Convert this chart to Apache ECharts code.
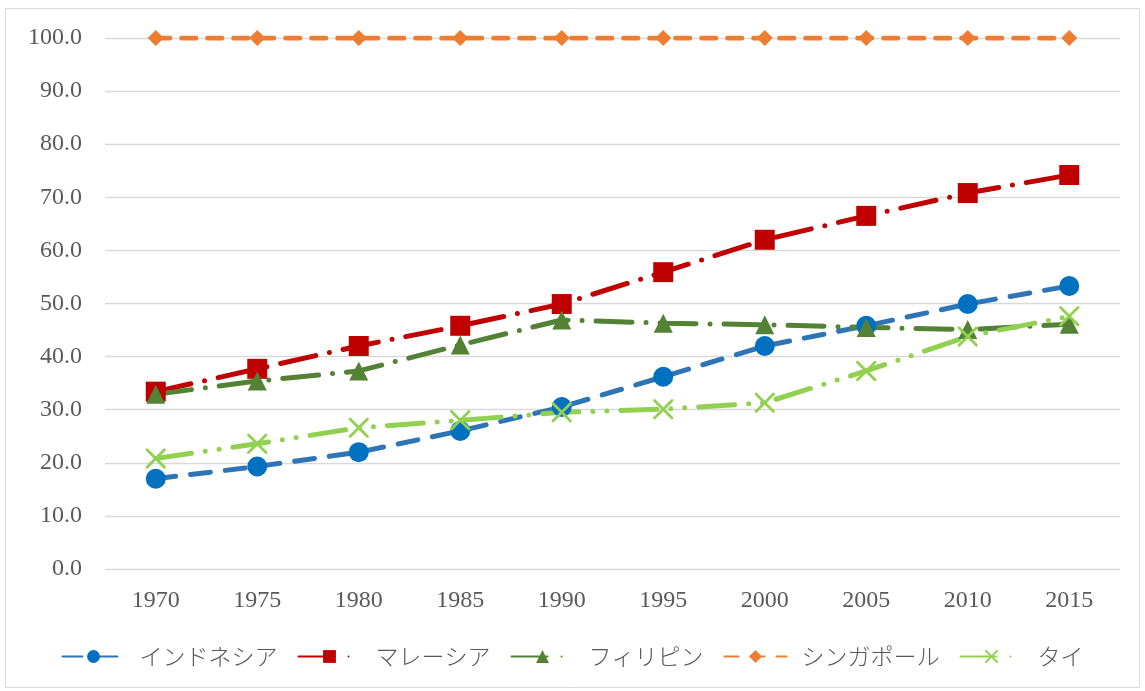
<!DOCTYPE html>
<html><head><meta charset="utf-8">
<script src="https://cdn.jsdelivr.net/npm/echarts@6/dist/echarts.min.js"></script>
<style>html,body{margin:0;padding:0;background:#fff}#c{width:1145px;height:691px}</style>
</head><body><div id="c"></div>
<script>
const years = ['1970','1975','1980','1985','1990','1995','2000','2005','2010','2015'];
const seriesNames = ['インドネシア','マレーシア','フィリピン','シンガポール','タイ'];
const indonesia = [17.0, 19.3, 22.0, 26.0, 30.5, 36.2, 42.0, 45.8, 49.9, 53.3];
const malaysia = [33.4, 37.7, 42.0, 45.8, 49.9, 55.9, 62.0, 66.5, 70.8, 74.2];
const philippines = [32.9, 35.4, 37.3, 42.2, 46.9, 46.3, 46.0, 45.5, 45.1, 46.1];
const singapore = [100, 100, 100, 100, 100, 100, 100, 100, 100, 100];
const thai = [20.8, 23.6, 26.6, 28.0, 29.5, 30.1, 31.3, 37.3, 43.8, 47.6];
const yTicks = [0,10,20,30,40,50,60,70,80,90,100];

const serif = '"Liberation Serif","DejaVu Serif",serif';
const jp = '"Noto Sans CJK JP",sans-serif';
const xPath = 'path://M0,0 L2,0 L10,8 L18,0 L20,0 L20,2 L12,10 L20,18 L20,20 L18,20 L10,12 L2,20 L0,20 L0,18 L8,10 L0,2 Z';

function mk(name, data, color, lineType, symbol, size, mcolor){
  return {
    name, type:'line', data,
    symbol, symbolSize:size,
    itemStyle:{color: mcolor||color},
    lineStyle:{color, width:5, type:lineType, cap:'round'},
    emphasis:{disabled:true}
  };
}
const chart = echarts.init(document.getElementById('c'));
chart.setOption({
  animation:false,
  grid:{left:105, right:25, top:38, bottom:122},
  graphic:[{type:'rect', shape:{x:5.5,y:8.5,width:1134,height:679}, style:{fill:'none', stroke:'#d9d9d9', lineWidth:1}, silent:true}],
  xAxis:{type:'category', data:years, boundaryGap:true,
    axisLine:{show:false}, axisTick:{show:false},
    axisLabel:{color:'#595959', fontFamily:serif, fontSize:24, margin:20}},
  yAxis:{type:'value', min:0, max:100, interval:10,
    axisLine:{show:false}, axisTick:{show:false},
    splitLine:{lineStyle:{color:'#d9d9d9', width:1.3}},
    axisLabel:{color:'#595959', fontFamily:serif, fontSize:24, margin:23,
      formatter:v=>yTicks.includes(v)? v.toFixed(1):''}},
  legend:{bottom:18, left:'center', itemWidth:62, itemHeight:16, itemGap:20,
    textStyle:{color:'#595959', fontFamily:jp, fontSize:23, fontWeight:300, padding:[0,0,0,10]},
    data:seriesNames},
  series:[
    mk(seriesNames[0], indonesia, '#2e75b6', [20,15], 'circle', 20, '#0070c0'),
    mk(seriesNames[1], malaysia, '#c00000', [36,14,0,14], 'rect', 20),
    mk(seriesNames[2], philippines, '#548235', [36,14,0,14], 'triangle', 19),
    mk(seriesNames[3], singapore, '#ed7d31', [14,12], 'diamond', 16),
    mk(seriesNames[4], thai, '#92d050', [36,14,0,14,0,14], xPath, 20)
  ]
});
</script></body></html>
